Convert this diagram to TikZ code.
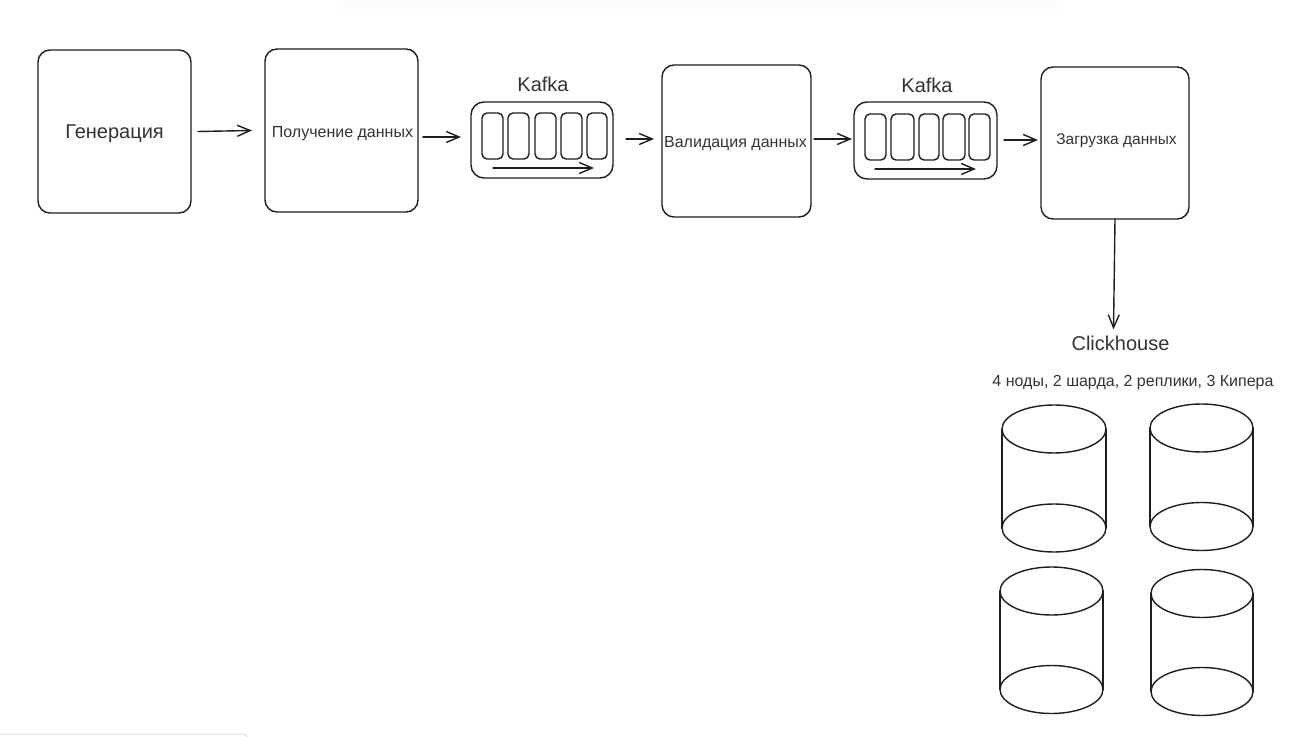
\documentclass[tikz,border=0pt]{standalone}
\usepackage{fontspec}
\setmainfont{Liberation Sans}
\usetikzlibrary{arrows.meta,shapes.geometric}
\definecolor{ink}{HTML}{1E1E1E}
\definecolor{txt}{HTML}{333333}
\def\u{0.75pt}
\tikzset{
  x=0.75pt,y=-0.75pt,
  ln/.style={draw=ink,line width=1.4*\u,line join=round,line cap=round},
  bigbox/.style={ln,rounded corners=12*\u,inner sep=0pt,outer sep=0pt,text=txt,align=center},
  wide/.style={ln,rounded corners=13*\u,inner sep=0pt,outer sep=0pt},
  cell/.style={ln,rounded corners=5*\u,inner sep=0pt,outer sep=0pt,minimum height=46*\u},
  ell/.style={ln,ellipse,inner sep=0pt,outer sep=0pt,minimum width=104*\u,minimum height=48*\u},
  arr/.style={ln,-{Straight Barb[length=13*\u,width=11*\u,line width=1.4*\u]}},
  lab/.style={text=txt,inner sep=0pt},
  fbig/.style={font=\fontsize{15pt}{18pt}\selectfont},
  fmid/.style={font=\fontsize{12pt}{14pt}\selectfont},
}
\begin{document}
\begin{tikzpicture}
\useasboundingbox (0,0) rectangle (1305,737);
% soft page shadows
\foreach \o/\c in {16/FEFEFE,13/FDFDFD,10/FCFCFC,7/FBFBFB,4/FAFAFA,1/F8F8F8}{
  \definecolor{sh}{HTML}{\c}
  \fill[sh,rounded corners=8*\u] ({340-\o+16},-30) rectangle ({1060+\o-16},{\o-1});
}
\fill[white!90!black,rounded corners=4*\u] (-10,733.5) rectangle (248,745);
\fill[white,rounded corners=4*\u] (-10,735) rectangle (247,745);
% process boxes
\node[bigbox,minimum width=153*\u,minimum height=163*\u] (gen) at (114.5,131.5) {};
\node[lab,fbig] (gent) at (114.5,133.5) {Генерация};
\node[bigbox,minimum width=153*\u,minimum height=163*\u] (recv) at (341.5,130.5) {};
\node[lab,fmid] (recvt) at (342.5,134) {Получение данных};
\node[bigbox,minimum width=149*\u,minimum height=152*\u] (val) at (736.5,141) {};
\node[lab,fmid] (valt) at (735.5,144) {Валидация данных};
\node[bigbox,minimum width=148*\u,minimum height=152*\u] (load) at (1115,143) {};
\node[lab,fmid,font=\fontsize{11.6pt}{14pt}\selectfont] (loadt) at (1116.5,140.5) {Загрузка данных};
% Kafka 1
\node[wide,minimum width=142*\u,minimum height=76*\u] (k1) at (542,140) {};
\node[lab,fbig] (k1t) at (543,84) {Kafka};
\node[cell,minimum width=21*\u] (k1a) at (492.5,136) {};
\node[cell,minimum width=21*\u] (k1b) at (518.5,136) {};
\node[cell,minimum width=21*\u] (k1c) at (545.5,136) {};
\node[cell,minimum width=21*\u] (k1d) at (571.5,136) {};
\node[cell,minimum width=20*\u] (k1e) at (597,136) {};
\coordinate (k1p) at (493,168);
\coordinate (k1q) at (594,168);
\draw[arr] (k1p) -- (k1q);
% Kafka 2
\node[wide,minimum width=143*\u,minimum height=77*\u] (k2) at (925.5,140.5) {};
\node[lab,fbig] (k2t) at (927,85) {Kafka};
\node[cell,minimum width=21*\u] (k2a) at (875.5,137) {};
\node[cell,minimum width=23*\u] (k2b) at (902.5,137) {};
\node[cell,minimum width=20*\u] (k2c) at (929,137) {};
\node[cell,minimum width=22*\u] (k2d) at (954,137) {};
\node[cell,minimum width=21*\u] (k2e) at (979.5,137) {};
\coordinate (k2p) at (875,169);
\coordinate (k2q) at (976,169);
\draw[arr] (k2p) -- (k2q);
% connectors
\draw[arr] ([shift={(7,0)}]gen.east) -- ([shift={(-13,0)}]recv.west);
\draw[arr] ([shift={(5,6.5)}]recv.east) -- ([shift={(-10,-3)}]k1.west);
\draw[arr] ([shift={(13,-1)}]k1.east) -- ([shift={(-8,-2)}]val.west);
\draw[arr] ([shift={(3,-2)}]val.east) -- ([shift={(-2,-1.5)}]k2.west);
\draw[arr] ([shift={(7,-0.5)}]k2.east) -- ([shift={(-3,-3)}]load.west);
% Clickhouse
\node[lab,fbig] (ch) at (1120.5,343) {Clickhouse};
\node[lab,fmid] (chs) at (1133,383) {4 ноды, 2 шарда, 2 реплики, 3 Кипера};
\draw[arr] (load.south) -- ([shift={(-7,-6)}]ch.north);
% cylinders
\node[ell] (c1t) at (1054,429) {};
\node[ell] (c1b) at (1054,528) {};
\draw[ln] (c1t.west) -- (c1b.west) (c1t.east) -- (c1b.east);
\node[ell,minimum width=103*\u] (c2t) at (1201.5,428) {};
\node[ell,minimum width=103*\u] (c2b) at (1201.5,526.5) {};
\draw[ln] (c2t.west) -- (c2b.west) (c2t.east) -- (c2b.east);
\node[ell,minimum width=103*\u] (c3t) at (1051.5,591) {};
\node[ell,minimum width=103*\u] (c3b) at (1051.5,689.5) {};
\draw[ln] (c3t.west) -- (c3b.west) (c3t.east) -- (c3b.east);
\node[ell,minimum width=102*\u] (c4t) at (1202,593.5) {};
\node[ell,minimum width=102*\u] (c4b) at (1202,691.5) {};
\draw[ln] (c4t.west) -- (c4b.west) (c4t.east) -- (c4b.east);
\end{tikzpicture}
\end{document}
